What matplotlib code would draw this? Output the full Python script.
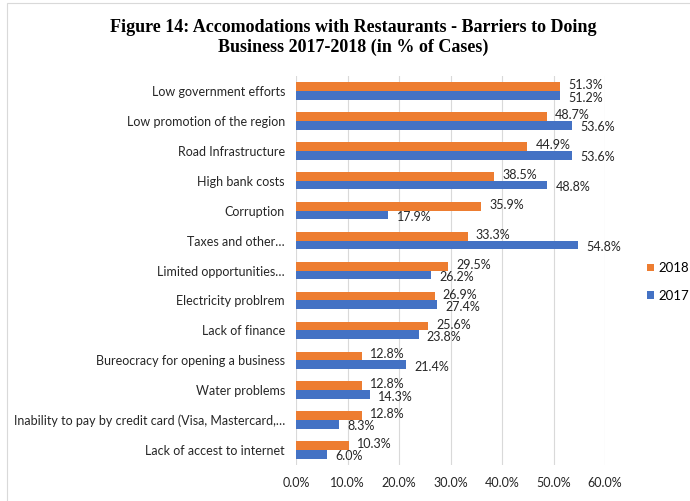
import numpy as np
import matplotlib.pyplot as plt
from matplotlib.ticker import FuncFormatter

categories = [
    "Low government efforts",
    "Low promotion of the region",
    "Road Infrastructure",
    "High bank costs",
    "Corruption",
    "Taxes and other\u2026",
    "Limited opportunities\u2026",
    "Electricity problrem",
    "Lack of finance",
    "Bureocracy for opening a business",
    "Water problems",
    "Inability to pay by credit card (Visa, Mastercard,\u2026",
    "Lack of accest to internet",
]
values_2018 = [51.3, 48.7, 44.9, 38.5, 35.9, 33.3, 29.5, 26.9, 25.6, 12.8, 12.8, 12.8, 10.3]
values_2017 = [51.2, 53.6, 53.6, 48.8, 17.9, 54.8, 26.2, 27.4, 23.8, 21.4, 14.3, 8.3, 6.0]

c2018 = "#ED7D31"
c2017 = "#4472C4"
label_font = "Lato"

fig = plt.figure(figsize=(6.9, 5.01), dpi=100)
ax = fig.add_axes([0.429, 0.072, 0.448, 0.776])

y = np.arange(len(categories))
h = 0.29
ax.barh(y - h / 2, values_2018, height=h, color=c2018, label="2018")
ax.barh(y + h / 2, values_2017, height=h, color=c2017, label="2017")

# value labels just past the end of each bar
for yi, v in zip(y, values_2018):
    ax.text(v + 1.6, yi - h / 2 - 0.05, f"{v:.1f}%", va="center", ha="left",
            fontsize=9, family=label_font, color="#262626")
for yi, v in zip(y, values_2017):
    ax.text(v + 1.6, yi + h / 2 + 0.07, f"{v:.1f}%", va="center", ha="left",
            fontsize=9, family=label_font, color="#262626")

ax.set_xlim(0, 60)
ax.set_ylim(len(categories) - 0.5, -0.5)
ax.set_xticks(np.arange(0, 61, 10))
ax.xaxis.set_major_formatter(FuncFormatter(lambda x, _: f"{x:.1f}%"))
ax.set_yticks(y)
ax.set_yticklabels(categories)
ax.grid(axis="x", color="#d9d9d9", linewidth=0.8)
ax.set_axisbelow(True)
for s in ax.spines.values():
    s.set_visible(False)
ax.tick_params(length=0)
ax.tick_params(axis="y", pad=8)
ax.tick_params(axis="x", pad=9)
for lab in ax.get_xticklabels() + ax.get_yticklabels():
    lab.set_family(label_font)
    lab.set_fontsize(9)
    lab.set_color("#262626")

handles, labels = ax.get_legend_handles_labels()
leg = fig.legend(handles, labels, loc="center left", bbox_to_anchor=(0.924, 0.437),
                 frameon=False, handlelength=0.55, handleheight=0.55,
                 labelspacing=1.2, handletextpad=0.3, borderpad=0.2,
                 prop={"family": label_font, "size": 9.5})

fig.text(0.512, 0.925,
         "Figure 14: Accomodations with Restaurants - Barriers to Doing\n"
         "Business 2017-2018 (in % of Cases)",
         ha="center", va="center", fontsize=13, fontweight="bold",
         family="Liberation Serif", linespacing=1.2)

# light frame round the chart area, running past the right and bottom edges
fig.patches.append(plt.Rectangle((0.01, -0.02), 1.05, 1.014, transform=fig.transFigure,
                                 fill=False, edgecolor="#d9d9d9", linewidth=0.8))

fig.savefig("out.png", dpi=100)
